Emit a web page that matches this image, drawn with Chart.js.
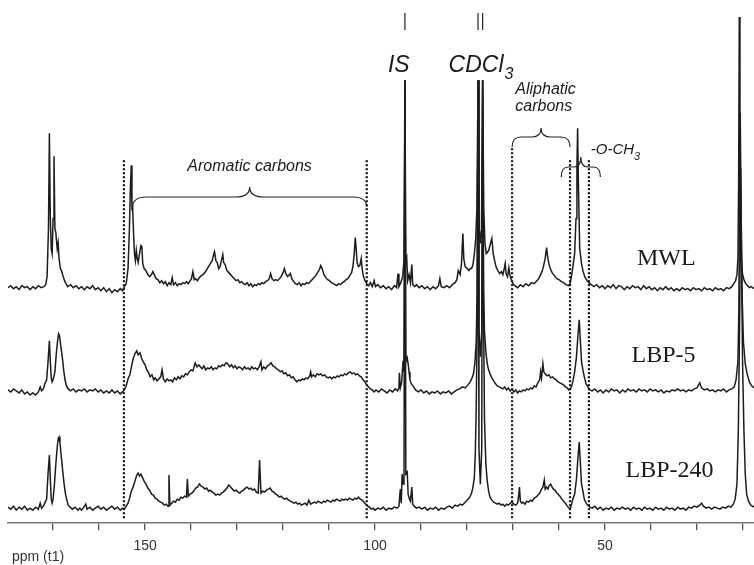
<!DOCTYPE html>
<html>
<head>
<meta charset="utf-8">
<script src="https://cdn.jsdelivr.net/npm/chart.js@4.4.1/dist/chart.umd.min.js"></script>
<style>
  html, body { margin: 0; padding: 0; background: #fff; }
  canvas { display: block; }
</style>
</head>
<body>
<canvas id="nmr-chart" width="754" height="565"></canvas>
<script>
// 13C NMR spectra, [ppm, intensity above own baseline]
const sampleNames = ["MWL", "LBP-5", "LBP-240"];
const tickLabels = [150, 100, 50];

const mwl = [
  [179.8,1],[179.2,3],[178.6,0],[178,2],[177.4,-1],[176.8,3],[176.2,1],[175.6,2],[175,-1],[174.4,2],[173.8,0],[173.2,3],[172.6,1],[172,2],[171.6,4],
  [171.3,12],[171.0,60],[170.8,155],[170.6,70],[170.4,40],[170.2,35],[170.0,70],[169.8,132],[169.6,60],[169.4,56],[169.3,50],[169.1,40],[168.9,46],[168.7,30],[168.4,20],[168.1,17],[167.8,12],[167.5,8],[167.2,5],
  [166.8,2],[166.2,4],[165.6,1],[165,3],[164.4,0],[163.8,2],[163.2,-1],[162.6,2],[162,0],[161.4,3],[160.8,-1],[160.2,1],[159.6,-2],[159,1],[158.4,-3],[157.8,0],[157.2,-4],[156.6,-1],[156,-3],[155.4,0],[154.9,-2],[154.5,2],
  [154.1,5],[153.7,20],[153.4,60],[153.2,100],[153.0,123],[152.85,80],[152.7,81],[152.5,55],[152.3,35],[152.1,28],[151.9,38],[151.7,30],[151.5,26],[151.2,35],[150.9,43],[150.7,42],[150.5,25],[150.2,20],[149.8,18],[149.4,14],[149,12],[148.6,14],[148.3,17],[148,14],[147.6,10],[147.2,9],[146.8,6],[146.4,8],[146,5],[145.6,7],[145.2,3],[144.8,6],[144.4,4],[144.1,11],[143.8,4],[143.4,6],[143,3],[142.6,5],[142.2,4],[141.8,6],[141.4,5],[141,7],[140.6,5],[140.2,8],[139.9,10],[139.6,17],[139.3,9],[139,10],[138.6,8],[138.2,11],[137.8,13],[137.4,14],[137,16],[136.6,19],[136.2,22],[135.8,25],[135.4,28],[135.1,34],[134.9,37],[134.6,28],[134.3,26],[134,20],[133.7,22],[133.4,28],[133.1,34],[132.9,26],[132.6,24],[132.2,18],[131.8,16],[131.4,14],[131,12],[130.6,10],[130.2,8],[129.8,9],[129.4,6],[129,7],[128.6,5],[128.2,4],[127.8,6],[127.4,3],[127,5],[126.6,2],[126.2,4],[125.8,3],[125.4,5],[125,4],[124.6,6],[124.2,5],[123.8,7],[123.4,8],[123,10],[122.7,15],[122.4,10],[122,8],[121.6,9],[121.2,8],[120.8,10],[120.4,12],[120,16],[119.7,20],[119.4,15],[119,12],[118.6,14],[118.4,15],[118.1,10],[117.7,7],[117.3,5],[116.9,4],[116.5,6],[116.1,3],[115.7,5],[115.3,4],[114.9,6],[114.5,5],[114.1,7],[113.7,9],[113.3,11],[112.9,13],[112.5,16],[112.1,19],[111.8,23],[111.5,20],[111.1,14],[110.7,11],[110.3,9],[109.9,8],[109.5,6],[109.1,5],[108.7,4],[108.3,3],[107.9,5],[107.5,4],[107.1,6],[106.7,7],[106.3,9],[105.9,10],[105.5,13],[105.1,16],[104.8,22],[104.5,36],[104.3,51],[104.1,40],[103.9,26],[103.6,22],[103.3,23],[103.0,30],[102.8,20],[102.5,12],[102.2,8],[101.8,5],[101.4,3],[101,6],[100.6,2],
  [100.2,8],[99.9,2],[99.4,4],[98.8,1],[98.2,3],[97.6,0],[97,2],[96.4,-1],[95.8,3],[95.3,1],[95.0,15],[94.8,2],[94.4,6],[94.0,12],[93.7,28],[93.5,208],[93.3,26],[93.1,30],[92.9,8],[92.6,14],[92.3,6],[92.0,24],[91.8,4],[91.4,2],[91,4],[90.4,1],
  [89.8,3],[89.2,0],[88.6,2],[88,-1],[87.4,2],[86.8,0],[86.2,3],[85.9,10],[85.6,2],[85,1],[84.4,3],[83.8,1],[83.2,4],[82.6,6],[82.2,9],[81.9,18],[81.5,14],[81.2,25],[80.9,55],[80.7,30],[80.4,22],[80.0,20],[79.6,18],[79.3,20],[79.0,20],[78.7,24],[78.4,35],[78.1,50],[77.85,80],[77.6,208],[77.35,60],[77.1,45],[76.85,60],[76.6,208],[76.35,80],[76.1,45],[75.8,35],[75.3,38],[74.9,45],[74.6,50],[74.3,35],[74.0,28],[73.7,22],[73.3,18],[72.9,15],[72.5,17],[72.2,14],[71.9,20],[71.7,25],[71.5,15],[71.2,12],[70.9,21],[70.6,12],[70.3,8],[70,5],
  [69.6,3],[69,1],[68.4,4],[67.8,2],[67.2,5],[66.6,3],[66,6],[65.4,5],[64.8,8],[64.4,10],[64,14],[63.6,18],[63.3,24],[63.0,30],[62.8,38],[62.7,41],[62.5,33],[62.2,25],[61.9,20],[61.5,16],[61,13],[60.5,10],[60,9],[59.5,7],[59,6],[58.5,4],[58,3],[57.6,5],[57.3,12],[57.0,21],[56.6,35],[56.3,70],[56.1,120],[55.95,160],[55.8,110],[55.5,40],[55.1,25],[54.8,18],[54.4,12],[53.9,8],[53.5,6],[53,4],
  [52.4,2],[51.8,4],[51.2,1],[50.6,3],[50,0],[49.4,3],[48.8,1],[48.2,4],[47.6,0],[47,3],[46.4,2],[45.8,-1],[45.2,2],[44.6,0],[44,3],[43.4,1],[42.8,2],[42.2,-1],[41.6,3],[41,0],[40.4,2],[39.8,-1],[39.2,1],[38.6,-2],[38,1],[37.4,-1],[36.8,2],[36.2,-1],[35.6,1],[35,-2],[34.4,0],[33.8,-2],[33.2,1],[32.6,-1],[32,0],[31.4,-2],[30.8,1],[30.2,-1],[29.6,0],[29,-2],[28.4,1],[27.8,-1],[27.2,0],[26.6,-2],[26,1],[25.4,-1],[24.8,0],[24.2,-2],[23.6,1],[23,0],[22.4,2],[22,5],[21.6,8],[21.3,14],[21.1,30],[20.95,100],[20.8,271],[20.65,150],[20.5,60],[20.3,25],[20.1,15],[19.8,9],[19.4,5],[19,3],[18.6,1],[18.2,2],[17.6,0]
];

const lbp5 = [
  [179.8,2],[179.2,0],[178.6,3],[178,1],[177.4,-1],[176.8,2],[176.2,-2],[175.6,0],[175,-3],[174.4,-1],[173.8,-3],[173.2,0],[172.8,5],[172.5,1],[172.1,3],[171.8,8],[171.4,12],[171.1,30],[170.8,51],[170.6,30],[170.4,14],[170.2,10],[170.0,12],[169.6,20],[169.3,38],[169.0,52],[168.8,58],[168.6,56],[168.3,45],[168.0,35],[167.7,22],[167.4,12],[167.1,6],[166.7,3],
  [166.2,1],[165.6,3],[165,0],[164.4,2],[163.8,1],[163.2,3],[162.6,0],[162,2],[161.4,1],[160.8,3],[160.2,0],[159.6,2],[159,-1],[158.4,1],[157.8,-1],[157.2,2],[156.6,-1],[156,1],[155.4,-2],[154.9,0],
  [154.5,2],[154.1,6],[153.7,13],[153.3,17],[153,24],[152.6,33],[152.2,38],[151.8,41],[151.5,37],[151.1,39],[150.8,34],[150.4,30],[150,27],[149.6,22],[149.2,19],[148.9,15],[148.5,17],[148.1,12],[147.8,14],[147.4,11],[147,13],[146.6,15],[146.3,22],[146.0,13],[145.6,10],[145.2,13],[144.8,11],[144.4,12],[144,10],[143.6,14],[143.2,12],[142.8,15],[142.4,13],[142,16],[141.6,15],[141.2,18],[140.8,17],[140.4,20],[140,22],[139.6,21],[139.1,29],[138.7,25],[138.3,27],[138,25],[137.6,23],[137.2,26],[136.8,22],[136.4,24],[136,23],[135.6,25],[135.2,22],[134.8,24],[134.4,23],[134,26],[133.6,25],[133.2,27],[132.8,26],[132.4,29],[132,28],[131.6,25],[131.2,27],[130.8,24],[130.4,26],[130,23],[129.6,25],[129.2,24],[128.8,22],[128.4,25],[128,23],[127.6,24],[127.2,22],[126.8,25],[126.4,23],[126,24],[125.6,22],[125.2,25],[124.8,30],[124.6,22],[124.2,25],[123.8,23],[123.4,26],[123,27],[122.6,29],[122.2,26],[121.8,25],[121.4,23],[121,22],[120.6,20],[120.2,21],[119.8,18],[119.4,19],[119,16],[118.6,17],[118.2,14],[117.8,15],[117.4,12],[117,10],[116.6,12],[116.2,11],[115.8,13],[115.4,12],[115,14],[114.6,13],[114.2,16],[114,20],[113.8,15],[113.4,17],[113,15],[112.6,18],[112.2,17],[111.8,18],[111.4,16],[111,17],[110.6,15],[110.2,14],[109.8,15],[109.4,13],[109,15],[108.6,14],[108.2,16],[107.8,15],[107.4,17],[107,16],[106.6,18],[106.2,17],[105.8,19],[105.4,20],[105,18],[104.6,19],[104.2,17],[103.8,18],[103.4,16],[103,15],[102.6,12],[102.2,10],[101.8,7],[101.4,5],[101,3],[100.6,2],[100.2,0],
  [99.8,2],[99.2,0],[98.6,3],[98,1],[97.4,-1],[96.8,2],[96.2,0],[95.6,3],[95.1,1],[94.8,4],[94.7,19],[94.5,4],[94.2,10],[93.9,31],[93.7,20],[93.5,311],[93.3,30],[93.0,34],[92.8,28],[92.6,20],[92.4,12],[92.1,8],[91.6,5],[91.2,2],[90.6,0],[90,2],[89.4,-1],[88.8,1],[88.2,-2],[87.6,0],[87,-1],[86.4,1],[85.8,-2],[85.2,0],[84.6,-1],[84,1],[83.4,-2],[82.8,0],[82.2,2],[81.6,3],[81,5],[80.4,4],[79.8,7],[79.3,10],[78.9,14],[78.6,18],[78.3,28],[78.0,50],[77.8,100],[77.6,311],[77.4,60],[77.1,35],[76.8,60],[76.6,311],[76.4,100],[76.2,60],[75.9,40],[75.6,28],[75.3,22],[75,18],[74.6,14],[74.2,11],[73.8,8],[73.4,6],[73,5],[72.6,4],[72.2,3],[71.8,5],[71.4,2],[71,4],[70.6,1],[70.2,3],[69.8,0],[69.4,2],[69,-1],[68.6,1],[68.2,0],[67.8,2],[67.4,1],[67,3],[66.6,2],[66.2,4],[65.8,3],[65.4,6],[65,5],[64.6,9],[64.2,12],[64.0,20],[63.8,14],[63.5,28],[63.3,20],[63,18],[62.6,16],[62.2,17],[61.8,14],[61.4,15],[61,13],[60.6,12],[60.2,10],[59.8,9],[59.4,8],[59,7],[58.6,5],[58.2,4],[57.9,2],[57.6,3],[57.3,5],[57,10],[56.6,20],[56.2,35],[55.9,55],[55.6,72],[55.4,55],[55.1,30],[54.8,22],[54.5,15],[54.1,8],[53.7,5],[53.3,2],
  [52.8,1],[52.2,3],[51.6,0],[51,2],[50.4,-1],[49.8,2],[49.2,0],[48.6,3],[48,1],[47.4,2],[46.8,-1],[46.2,2],[45.6,0],[45,3],[44.4,1],[43.8,2],[43.2,0],[42.6,3],[42,1],[41.4,2],[40.8,0],[40.2,3],[39.6,1],[39,2],[38.4,0],[37.8,2],[37.2,-1],[36.6,1],[36,0],[35.4,2],[34.8,1],[34.2,3],[33.6,1],[33,2],[32.4,0],[31.8,2],[31.2,1],[30.6,3],[30,4],[29.4,9],[29,4],[28.4,2],[27.8,3],[27.2,1],[26.6,2],[26,0],[25.4,2],[24.8,1],[24.2,3],[23.6,0],[23,2],[22.4,3],[21.9,5],[21.5,12],[21.1,30],[20.9,80],[20.6,278],[20.4,180],[20.2,100],[19.9,50],[19.5,28],[19.1,18],[18.6,10],[18.1,6],[17.6,4]
];

const lbp240 = [
  [179.8,2],[179.2,0],[178.6,3],[178,-1],[177.4,2],[176.8,0],[176.2,3],[175.6,-1],[175,1],[174.4,-1],[173.8,2],[173.2,0],[172.8,6],[172.5,1],[172.1,3],[171.8,6],[171.4,10],[171.1,35],[170.8,54],[170.6,30],[170.4,10],[170.2,6],[170.0,10],[169.7,25],[169.4,45],[169.1,62],[168.9,70],[168.7,72],[168.5,66],[168.2,52],[167.9,38],[167.6,25],[167.3,15],[167,9],[166.7,4],[166.3,2],
  [165.8,0],[165.2,2],[164.6,-1],[164.2,1],[163.8,-1],[163.3,2],[162.9,5],[162.6,0],[162,2],[161.4,-1],[160.8,1],[160.2,3],[159.6,0],[159,2],[158.4,-1],[157.8,1],[157.2,3],[156.6,0],[156,2],[155.4,-1],[154.9,1],
  [154.5,0],[154.1,3],[153.7,6],[153.3,12],[153,18],[152.6,22],[152.2,28],[151.8,34],[151.5,36],[151.2,33],[150.9,35],[150.6,32],[150.2,28],[149.8,25],[149.4,21],[149,19],[148.6,15],[148.2,14],[147.8,11],[147.4,10],[147,8],[146.6,7],[146.2,6],[145.8,4],[145.4,5],[145,3],[144.8,34],[144.6,4],[144.2,6],[143.8,8],[143.4,7],[143,10],[142.6,9],[142.2,12],[141.8,11],[141.4,13],[141,12],[140.8,30],[140.6,13],[140.2,15],[139.8,16],[139.4,18],[139,21],[138.6,22],[138.2,25],[137.8,23],[137.4,22],[137,20],[136.6,21],[136.2,18],[135.8,19],[135.4,17],[135,16],[134.6,14],[134.2,15],[133.8,14],[133.4,16],[133,17],[132.6,19],[132.2,21],[131.8,24],[131.4,22],[131,20],[130.6,18],[130.2,19],[129.8,17],[129.4,16],[129,18],[128.6,19],[128.2,21],[127.8,22],[127.4,20],[127,21],[126.6,19],[126.2,20],[125.8,17],[125.4,16],[125.1,49],[124.8,16],[124.4,18],[124,17],[123.6,19],[123.2,20],[122.8,21],[122.4,18],[122,17],[121.6,15],[121.2,14],[120.8,12],[120.4,13],[120,11],[119.6,10],[119.2,11],[118.8,9],[118.4,8],[118,7],[117.6,6],[117.2,7],[116.8,5],[116.4,6],[116,4],[115.6,5],[115.2,6],[114.8,4],[114.4,9],[114,5],[113.6,6],[113.2,7],[112.8,6],[112.4,8],[112,7],[111.6,6],[111.2,8],[110.8,7],[110.4,9],[110,8],[109.6,7],[109.2,9],[108.8,8],[108.4,10],[108,9],[107.6,8],[107.2,10],[106.8,9],[106.4,10],[106,9],[105.6,11],[105.2,10],[104.8,9],[104.4,11],[104,10],[103.6,12],[103.2,10],[102.8,9],[102.4,7],[102,5],[101.6,3],[101.2,2],[100.8,0],[100.4,1],
  [100,-1],[99.4,1],[98.8,0],[98.2,2],[97.6,-1],[97,1],[96.4,0],[95.8,2],[95.2,1],[94.8,3],[94.5,20],[94.3,6],[94.1,35],[93.9,25],[93.7,30],[93.5,428],[93.3,35],[93.0,37],[92.8,15],[92.5,10],[92.3,8],[92.0,22],[91.8,5],[91.5,3],[91,1],[90.4,2],[89.8,0],[89.2,2],[88.6,-1],[88,1],[87.4,0],[86.8,2],[86.2,-1],[85.6,1],[85,0],[84.4,2],[83.8,3],[83.2,1],[82.6,4],[82,3],[81.5,5],[81,4],[80.4,7],[79.8,10],[79.4,12],[79,16],[78.7,22],[78.4,32],[78.2,55],[78,100],[77.8,180],[77.6,428],[77.4,60],[77.1,25],[76.8,60],[76.6,428],[76.4,200],[76.2,90],[75.9,45],[75.6,28],[75.3,18],[75,12],[74.6,9],[74.2,7],[73.8,6],[73.4,5],[73,6],[72.6,4],[72.2,5],[71.8,3],[71.4,5],[71,4],[70.6,6],[70.2,7],[69.8,5],[69.4,4],[69,6],[68.8,12],[68.6,22],[68.4,8],[68.1,6],[67.8,7],[67.4,5],[67,8],[66.6,7],[66.2,9],[65.8,8],[65.4,11],[65,12],[64.6,14],[64.2,16],[63.8,20],[63.5,22],[63.2,29],[63,20],[62.7,22],[62.4,20],[62.1,24],[61.8,25],[61.5,22],[61.2,20],[60.9,19],[60.6,17],[60.2,15],[59.8,13],[59.4,10],[59,8],[58.6,6],[58.2,3],[57.8,1],[57.6,0],[57.3,4],[57,10],[56.6,15],[56.2,30],[55.9,50],[55.6,67],[55.4,50],[55.1,25],[54.8,18],[54.5,10],[54.1,6],[53.7,4],[53.3,2],
  [52.8,1],[52.2,3],[51.6,0],[51,2],[50.4,-1],[49.8,1],[49.2,0],[48.6,2],[48,-1],[47.4,1],[46.8,0],[46.2,2],[45.6,0],[45,1],[44.4,-1],[43.8,2],[43.2,0],[42.6,1],[42,-1],[41.4,2],[40.8,0],[40.2,1],[39.6,-1],[39,2],[38.4,0],[37.8,1],[37.2,-1],[36.6,2],[36,0],[35.4,1],[34.8,-1],[34.2,2],[33.6,0],[33,1],[32.4,-1],[31.8,2],[31.2,1],[30.6,3],[30,2],[29.4,4],[29,6],[28.6,3],[28,1],[27.4,2],[26.8,0],[26.2,2],[25.6,1],[25,0],[24.4,2],[23.8,1],[23.2,3],[22.6,2],[22.1,5],[21.7,10],[21.3,25],[21.0,80],[20.7,200],[20.5,341],[20.3,250],[20.1,150],[19.8,80],[19.5,35],[19.2,15],[18.8,8],[18.3,4],[17.6,2]
];

// vertical stacking of the three traces
const baseOffsets = [234, 131, 14];
const spectra = [mwl, lbp5, lbp240];

// dotted region dividers (ppm) and reference-peak markers at the top
const dividerPpm = [154.6, 101.8, 70.2, 57.6, 53.5];
const dividerTop = [364, 364, 374, 364, 364];
const markerPpm = [93.5, 77.6, 76.6];

const datasets = [];
spectra.forEach((s, i) => {
  datasets.push({
    label: sampleNames[i],
    data: s.map(([p, h]) => ({ x: p, y: h + baseOffsets[i] })),
    borderColor: '#1c1c1c',
    borderWidth: 1.5,
    pointRadius: 0,
    tension: 0
  });
});
dividerPpm.forEach((p, i) => {
  datasets.push({
    label: 'divider',
    data: [{ x: p, y: 5 }, { x: p, y: dividerTop[i] }],
    borderColor: '#111',
    borderWidth: 2.2,
    borderDash: [2, 2],
    pointRadius: 0
  });
});
markerPpm.forEach(p => {
  datasets.push({
    label: 'marker',
    data: [{ x: p, y: 492 }, { x: p, y: 509 }],
    borderColor: '#222',
    borderWidth: 1.2,
    pointRadius: 0
  });
});

function brace(ctx, x1, x2, yH, yTip, yEnd, r) {
  const xm = (x1 + x2) / 2;
  ctx.beginPath();
  ctx.moveTo(x1, yEnd);
  ctx.quadraticCurveTo(x1, yH, x1 + r, yH);
  ctx.lineTo(xm - r, yH);
  ctx.quadraticCurveTo(xm, yH, xm, yTip);
  ctx.quadraticCurveTo(xm, yH, xm + r, yH);
  ctx.lineTo(x2 - r, yH);
  ctx.quadraticCurveTo(x2, yH, x2, yEnd);
  ctx.stroke();
}

const annotations = {
  id: 'annotations',
  afterDatasetsDraw(chart) {
    const ctx = chart.ctx;
    const xs = chart.scales.x;
    const px = v => xs.getPixelForValue(v);
    ctx.save();
    ctx.strokeStyle = '#222';
    ctx.lineWidth = 1.2;
    brace(ctx, px(152.7), px(101.8), 197, 187, 207, 14);
    brace(ctx, px(70.2), px(57.6), 137, 128, 147, 9);
    brace(ctx, px(59.5), px(51.0), 167, 157, 177, 7);

    ctx.fillStyle = '#1a1a1a';
    ctx.textBaseline = 'alphabetic';
    ctx.textAlign = 'left';
    ctx.font = 'italic 23px "Liberation Sans", Arial, sans-serif';
    ctx.fillText('IS', px(97.2), 72);
    ctx.fillText('CDCl', px(84.0), 72);
    let w = ctx.measureText('CDCl').width;
    ctx.font = 'italic 16px "Liberation Sans", Arial, sans-serif';
    ctx.fillText('3', px(84.0) + w + 1, 79);

    ctx.font = 'italic 16px "Liberation Sans", Arial, sans-serif';
    ctx.fillText('Aromatic carbons', px(140.8), 171);
    ctx.fillText('Aliphatic', px(69.5), 94);
    ctx.fillText('carbons', px(69.5), 111);
    ctx.font = 'italic 15px "Liberation Sans", Arial, sans-serif';
    ctx.fillText('-O-CH', px(53.1), 154);
    w = ctx.measureText('-O-CH').width;
    ctx.font = 'italic 11px "Liberation Sans", Arial, sans-serif';
    ctx.fillText('3', px(53.1) + w, 160);

    ctx.font = '24px "Liberation Serif", "Times New Roman", serif';
    ctx.textAlign = 'right';
    ctx.fillText(sampleNames[0], px(30.3), 265);
    ctx.fillText(sampleNames[1], px(30.3), 362);
    ctx.fillText(sampleNames[2], px(26.4), 477);

    ctx.textAlign = 'left';
    ctx.font = '14px "Liberation Sans", Arial, sans-serif';
    ctx.fillStyle = '#333';
    ctx.fillText('ppm (t1)', 12, 561);
    ctx.restore();
  }
};

new Chart(document.getElementById('nmr-chart'), {
  type: 'line',
  data: { datasets: datasets },
  options: {
    responsive: false,
    animation: false,
    devicePixelRatio: 1,
    layout: { padding: { left: 8, right: 0, top: 0, bottom: 2 } },
    plugins: { legend: { display: false }, tooltip: { enabled: false } },
    scales: {
      x: {
        type: 'linear',
        reverse: true,
        min: 17.6,
        max: 179.8,
        border: { display: true, color: '#777', width: 1.5 },
        grid: { drawOnChartArea: false, drawTicks: true, tickLength: 7, color: '#555', lineWidth: 1.3 },
        ticks: {
          stepSize: 10,
          includeBounds: false,
          autoSkip: false,
          maxRotation: 0,
          padding: 8,
          color: '#333',
          font: { family: '"Liberation Sans", Arial, sans-serif', size: 14 },
          callback: v => tickLabels.includes(v) ? String(v) : ''
        }
      },
      y: { display: false, min: 0, max: 522 }
    }
  },
  plugins: [annotations]
});
</script>
</body>
</html>
